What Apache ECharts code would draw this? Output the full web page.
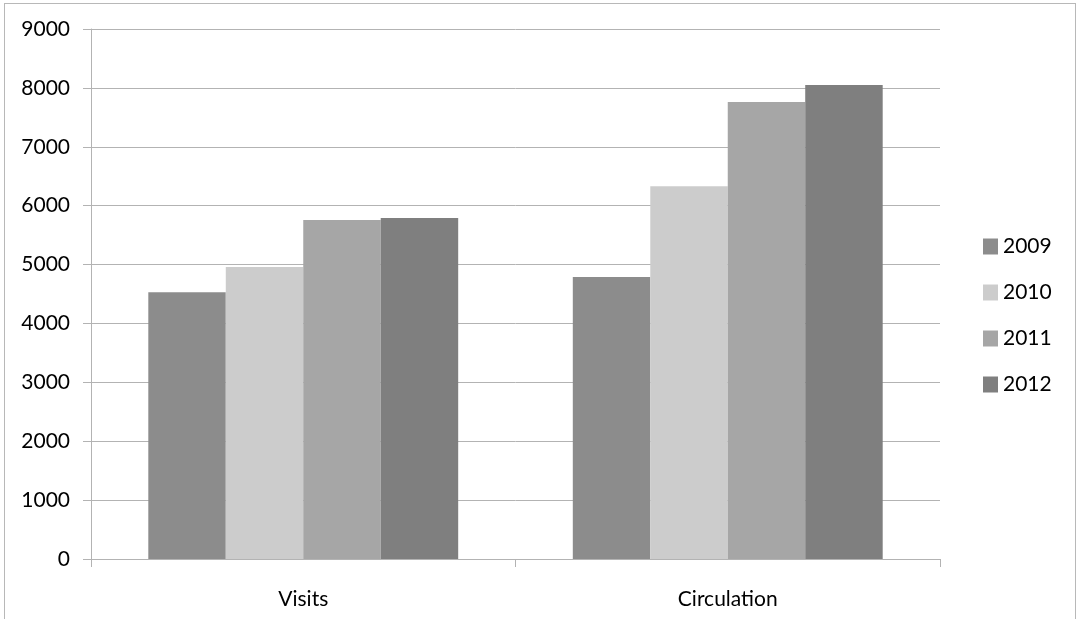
<!DOCTYPE html>
<html>
<head>
<meta charset="utf-8">
<script src="https://cdn.jsdelivr.net/npm/echarts@6/dist/echarts.min.js"></script>
<style>
html,body{margin:0;padding:0;background:#fff;}
#frame{position:absolute;left:4px;top:3px;width:1072px;height:630px;border:1px solid #b8b8b8;box-sizing:border-box;}
#chart{position:absolute;left:0;top:0;width:1081px;height:619px;}
</style>
</head>
<body>
<div id="frame"></div>
<div id="chart"></div>
<script>
const categories = ['Visits', 'Circulation'];
const years = ['2009', '2010', '2011', '2012'];
const values2009 = [4530, 4790];
const values2010 = [4960, 6330];
const values2011 = [5755, 7760];
const values2012 = [5790, 8050];
const colors = ['#8c8c8c', '#cccccc', '#a6a6a6', '#7f7f7f'];
const seriesValues = [values2009, values2010, values2011, values2012];

const font = 'Lato, "Open Sans", sans-serif';
const chart = echarts.init(document.getElementById('chart'));
chart.setOption({
  animation: false,
  textStyle: { fontFamily: font },
  grid: { left: 91, right: 141, top: 29, bottom: 60 },
  legend: {
    orient: 'vertical',
    left: 978,
    top: 231,
    itemWidth: 15,
    itemHeight: 16,
    itemGap: 25,
    icon: 'rect',
    textStyle: { fontSize: 21, color: '#000', fontFamily: font },
    data: years
  },
  xAxis: {
    type: 'category',
    data: categories,
    axisLine: { lineStyle: { color: '#b3b3b3' } },
    axisTick: { show: true, length: 8, lineStyle: { color: '#b3b3b3' } },
    axisLabel: { color: '#000', fontSize: 21, margin: 30, fontFamily: font }
  },
  yAxis: {
    type: 'value',
    min: 0,
    max: 9000,
    interval: 1000,
    axisLine: { show: true, lineStyle: { color: '#b3b3b3' } },
    axisTick: { show: true, length: 8, lineStyle: { color: '#b3b3b3' } },
    axisLabel: { color: '#000', fontSize: 21, margin: 21, fontFamily: font, formatter: v => String(v) },
    splitLine: { lineStyle: { color: '#b3b3b3' } }
  },
  series: years.map((y, i) => ({
    name: y,
    type: 'bar',
    data: seriesValues[i],
    itemStyle: { color: colors[i] },
    barGap: '0%',
    barCategoryGap: '27%'
  }))
});
</script>
</body>
</html>
